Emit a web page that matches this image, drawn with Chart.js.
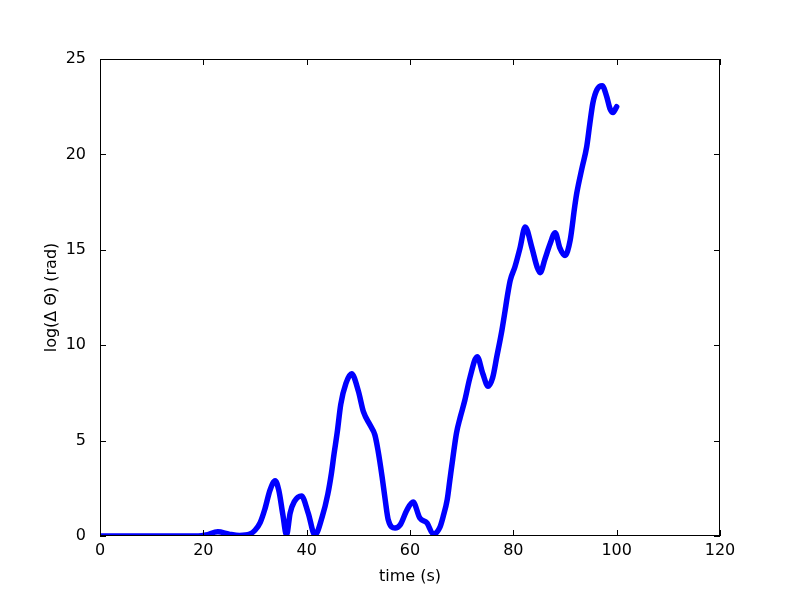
<!DOCTYPE html>
<html>
<head>
<meta charset="utf-8">
<script src="https://cdn.jsdelivr.net/npm/chart.js@4"></script>
<style>
  html, body { margin: 0; padding: 0; background: #fff; }
  #wrap { width: 800px; height: 596px; }
</style>
</head>
<body>
<div id="wrap"><canvas id="thetaChart" width="800" height="596"></canvas></div>
<script>
// time (s) and log(delta theta)
const times = [0, 10, 19, 20.5, 22.8, 25, 27, 29, 30, 31, 31.9, 32.9, 33.9, 34.6, 35.4, 36.1,
  36.8, 37.6, 39.0, 40.3, 41.6, 43, 44.1, 44.8, 45.3, 45.9, 46.6, 47.6, 48.7, 50, 51, 52.3,
  53.2, 53.8, 54.6, 55.2, 55.8, 57.1, 58.1, 59.4, 60.6, 61.9, 63.3, 64.5, 65.8, 66.4, 67.2,
  67.7, 68.3, 69.0, 69.7, 70.6, 71.6, 73.0, 74.1, 75.1, 76.0, 76.8, 77.8, 78.4, 78.8, 79.4,
  80.3, 81.3, 82.3, 83.6, 84.6, 85.2, 86.1, 87.1, 88.1, 89.0, 90.0, 91.0, 91.9, 92.3, 93.3,
  94.2, 94.8, 95.4, 96.2, 97.2, 98.1, 98.7, 99.3, 100];
const logDelta = [0, 0, 0, 0.05, 0.22, 0.1, 0.03, 0.1, 0.3, 0.7, 1.4, 2.4, 2.9, 2.4, 1.1, 0.05,
  1.2, 1.8, 2.1, 1.2, 0.05, 1.0, 2.2, 3.3, 4.3, 5.4, 6.9, 8.0, 8.5, 7.6, 6.5, 5.8,
  5.3, 4.5, 3.1, 1.9, 0.84, 0.42, 0.58, 1.36, 1.78, 0.94, 0.68, 0.1, 0.47, 1.0, 1.9,
  2.9, 4.1, 5.4, 6.2, 7.1, 8.3, 9.4, 8.5, 7.85, 8.3, 9.4, 10.8, 11.8, 12.5, 13.4,
  14.1, 15.1, 16.2, 15.1, 14.1, 13.8, 14.5, 15.3, 15.9, 15.1, 14.7, 15.5, 17.3, 18.0, 19.3,
  20.4, 21.6, 22.7, 23.4, 23.6, 23.0, 22.4, 22.2, 22.5];
const xTicks = [0, 20, 40, 60, 80, 100, 120];
const yTicks = [0, 5, 10, 15, 20, 25];

const FONT = { family: 'DejaVu Sans', size: 16 };

// matplotlib-style frame with inward ticks on all four sides
const frameTicks = {
  id: 'frameTicks',
  afterDraw(chart) {
    const { ctx, chartArea: a, scales } = chart;
    ctx.save();
    ctx.strokeStyle = '#000';
    ctx.lineWidth = 1;
    ctx.strokeRect(a.left + 0.5, a.top + 0.5, a.right - a.left - 1, a.bottom - a.top - 1);
    const len = 6;
    ctx.beginPath();
    xTicks.forEach(v => {
      const x = Math.round(scales.x.getPixelForValue(v)) + 0.5;
      ctx.moveTo(x, a.bottom); ctx.lineTo(x, a.bottom - len);
      ctx.moveTo(x, a.top); ctx.lineTo(x, a.top + len);
    });
    yTicks.forEach(v => {
      const y = Math.round(scales.y.getPixelForValue(v)) + 0.5;
      ctx.moveTo(a.left, y); ctx.lineTo(a.left + len, y);
      ctx.moveTo(a.right, y); ctx.lineTo(a.right - len, y);
    });
    ctx.stroke();
    ctx.restore();
  }
};

new Chart(document.getElementById('thetaChart'), {
  type: 'line',
  data: {
    datasets: [{
      data: times.map((t, i) => ({ x: t, y: logDelta[i] })),
      borderColor: '#0000ff',
      borderWidth: 5.5,
      pointRadius: 0,
      cubicInterpolationMode: 'monotone',
      borderCapStyle: 'round',
      borderJoinStyle: 'round',
      fill: false
    }]
  },
  options: {
    responsive: false,
    animation: false,
    layout: { padding: { top: 59, right: 80, left: 38, bottom: 6 } },
    plugins: { legend: { display: false }, tooltip: { enabled: false } },
    scales: {
      x: {
        type: 'linear', min: 0, max: 120,
        afterBuildTicks: s => { s.ticks = xTicks.map(v => ({ value: v })); },
        afterFit: s => { s.height = 54; },
        grid: { display: false },
        border: { display: false },
        ticks: { color: '#000', font: FONT, padding: -3, maxRotation: 0 },
        title: { display: true, text: 'time (s)', color: '#000', font: FONT, padding: { top: 0 } }
      },
      y: {
        type: 'linear', min: 0, max: 25,
        afterBuildTicks: s => { s.ticks = yTicks.map(v => ({ value: v })); },
        afterFit: s => { s.width = 62; },
        grid: { display: false },
        border: { display: false },
        ticks: { color: '#000', font: FONT, padding: 6 },
        title: { display: true, text: 'log(Δ Θ) (rad)', color: '#000', font: FONT, padding: { bottom: 0 } }
      }
    }
  },
  plugins: [frameTicks]
});
</script>
</body>
</html>
